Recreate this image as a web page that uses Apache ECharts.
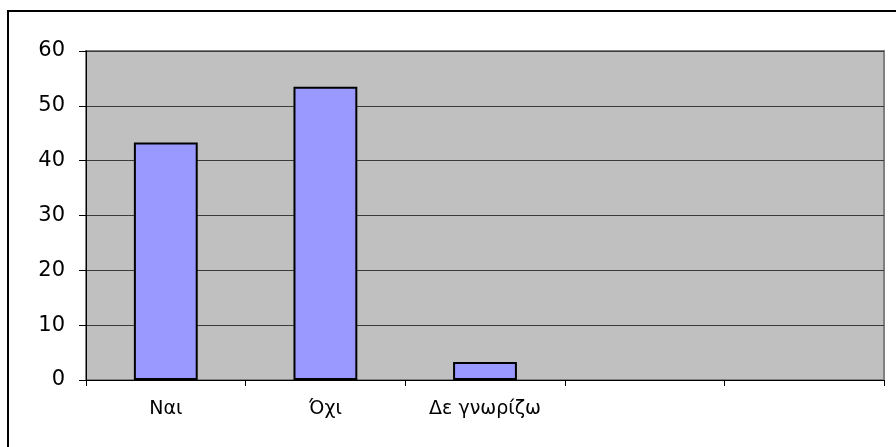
<!DOCTYPE html>
<html>
<head>
<meta charset="utf-8">
<script src="https://cdn.jsdelivr.net/npm/echarts@6/dist/echarts.min.js"></script>
<style>
  html, body { margin: 0; padding: 0; background: #fff; overflow: hidden; }
  #frame { position: absolute; left: 7px; top: 10px; width: 910px; height: 460px; border: 2px solid #000; box-sizing: border-box; }
  #chart { position: absolute; left: 0; top: 0; width: 896px; height: 447px; }
</style>
</head>
<body>
<div id="frame"></div>
<div id="chart"></div>
<script>
// Survey answers (percent)
const categories = ['Ναι', 'Όχι', 'Δε γνωρίζω', '', ''];
const values = [43.3, 53.5, 3.3, null, null];
const yTicks = { min: 0, max: 60, interval: 10 };

const chart = echarts.init(document.getElementById('chart'), null, { renderer: 'canvas' });
chart.setOption({
  animation: false,
  grid: {
    left: 86, top: 51, right: 12, bottom: 67,
    show: true,
    backgroundColor: '#C0C0C0',
    borderColor: '#808080',
    borderWidth: 2
  },
  xAxis: {
    type: 'category',
    data: categories,
    boundaryGap: true,
    axisLine: { lineStyle: { color: '#000', width: 1 } },
    axisTick: { show: true, alignWithLabel: false, length: 6, lineStyle: { color: '#000' } },
    axisLabel: {
      color: '#000', fontFamily: 'DejaVu Sans', fontSize: 19, margin: 20
    },
    splitLine: { show: false }
  },
  yAxis: {
    type: 'value',
    min: yTicks.min, max: yTicks.max, interval: yTicks.interval,
    axisLine: { show: true, lineStyle: { color: '#000', width: 1 } },
    axisTick: { show: true, length: 7, lineStyle: { color: '#000' } },
    axisLabel: {
      color: '#000', fontFamily: 'DejaVu Sans', fontSize: 21, margin: 21
    },
    splitLine: { show: true, lineStyle: { color: '#3a3a3a', width: 1 } }
  },
  series: [{
    type: 'bar',
    data: values,
    barWidth: '40%',
    itemStyle: { color: '#9999FF', borderColor: '#000', borderWidth: 2 }
  }]
});
</script>
</body>
</html>
